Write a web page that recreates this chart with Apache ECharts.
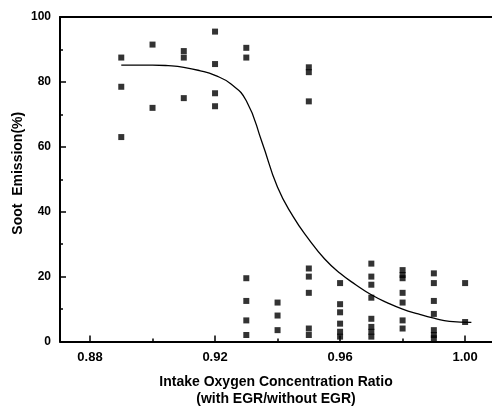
<!DOCTYPE html>
<html>
<head>
<meta charset="utf-8">
<script src="https://cdn.jsdelivr.net/npm/echarts@6/dist/echarts.min.js"></script>
<style>
html,body{margin:0;padding:0;background:#fff;}
#chart{width:492px;height:407px;}
</style>
</head>
<body>
<div id="chart"></div>
<script>
// Measured soot emission points: [O2 ratio, soot %]
const ratioCols = [0.89, 0.90, 0.91, 0.92, 0.93, 0.94, 0.95, 0.96, 0.97, 0.98, 0.99, 1.00];
const sootValues = [
  [87.5, 78.5, 63],
  [91.5, 72],
  [89.5, 87.5, 75],
  [95.5, 85.5, 76.5, 72.5],
  [90.5, 87.5, 19.5, 12.5, 6.5, 2],
  [12, 8, 3.5],
  [84.5, 83, 74, 22.5, 20, 15, 4, 2],
  [18, 11.5, 9, 5.5, 3, 1.5],
  [24, 20, 17.5, 13.5, 7, 4.5, 3, 1.5],
  [22, 20.5, 19.5, 15, 12, 6.5, 4],
  [21, 18, 12.5, 8.5, 3.5, 2, 1],
  [18, 6]
];
// Fitted trend curve
const curveX = [0.890, 0.895, 0.900, 0.905, 0.910, 0.915, 0.920, 0.925, 0.930, 0.935, 0.940, 0.945, 0.950, 0.955, 0.960, 0.965, 0.970, 0.975, 0.980, 0.985, 0.990, 0.995, 1.002];
const curveY = [85.2, 85.2, 85.2, 85.0, 84.5, 83.5, 82.0, 79.4, 74.2, 61.5, 47.5, 38.5, 31.5, 25.5, 21.0, 17.5, 14.4, 12.0, 10.0, 8.5, 7.2, 6.2, 5.9];
const xMajorTicks = [0.88, 0.92, 0.96, 1.00];
const xMinorTicks = [0.90, 0.94, 0.98];

const scatterData = [];
ratioCols.forEach((x, i) => sootValues[i].forEach(v => scatterData.push([x, v])));
const curveData = curveX.map((x, i) => [x, curveY[i]]);

const font = 'Liberation Sans, Arial, sans-serif';
const chart = echarts.init(document.getElementById('chart'), null, {renderer: 'canvas'});
const xMin = 0.8704, xMax = 1.0086;
chart.setOption({
  animation: false,
  backgroundColor: '#ffffff',
  grid: {left: 60, right: 0, top: 17, bottom: 65.5, containLabel: false, outerBoundsMode: 'none'},
  xAxis: [
    {
      type: 'value', min: xMin, max: xMax, position: 'bottom',
      name: 'Intake Oxygen Concentration Ratio\n(with EGR/without EGR)',
      nameLocation: 'middle', nameGap: 32,
      nameTextStyle: {fontFamily: font, fontWeight: 'bold', fontSize: 14, color: '#000', lineHeight: 17},
      axisLine: {show: true, lineStyle: {color: '#000', width: 2}},
      axisTick: {show: true, inside: true, length: 6, customValues: xMajorTicks, lineStyle: {color: '#000', width: 1.5}},
      axisLabel: {show: true, customValues: xMajorTicks, formatter: v => v.toFixed(2), fontFamily: font, fontWeight: 'bold', fontSize: 13, color: '#000', margin: 9},
      splitLine: {show: false}
    },
    {
      type: 'value', min: xMin, max: xMax, position: 'bottom',
      axisLine: {show: false},
      axisTick: {show: true, inside: true, length: 3, customValues: xMinorTicks, lineStyle: {color: '#000', width: 1.5}},
      axisLabel: {show: false},
      splitLine: {show: false}
    },
    {
      type: 'value', min: xMin, max: xMax, position: 'top',
      axisLine: {show: true, lineStyle: {color: '#000', width: 2}},
      axisTick: {show: false}, axisLabel: {show: false}, splitLine: {show: false}
    }
  ],
  yAxis: {
    type: 'value', min: 0, max: 100, interval: 20,
    name: 'Soot  Emission(%)', nameLocation: 'middle', nameGap: 35, nameMoveOverlap: false,
    nameTextStyle: {fontFamily: font, fontWeight: 'bold', fontSize: 14, color: '#000', padding: [0, 0, 0, 12]},
    axisLine: {show: true, lineStyle: {color: '#000', width: 2}},
    axisTick: {show: true, inside: true, length: 6, lineStyle: {color: '#000', width: 1.5}},
    minorTick: {show: true, splitNumber: 2, length: 3, lineStyle: {color: '#000', width: 1.5}},
    axisLabel: {fontFamily: font, fontWeight: 'bold', fontSize: 12, color: '#000', margin: 9},
    splitLine: {show: false}
  },
  series: [
    {
      type: 'scatter', xAxisIndex: 0, data: scatterData,
      symbol: 'rect', symbolSize: 6,
      itemStyle: {color: '#000'}
    },
    {
      type: 'line', xAxisIndex: 0, data: curveData, smooth: 0.5,
      showSymbol: false, symbol: 'none',
      lineStyle: {color: '#000', width: 1.3}
    }
  ]
});
</script>
</body>
</html>
